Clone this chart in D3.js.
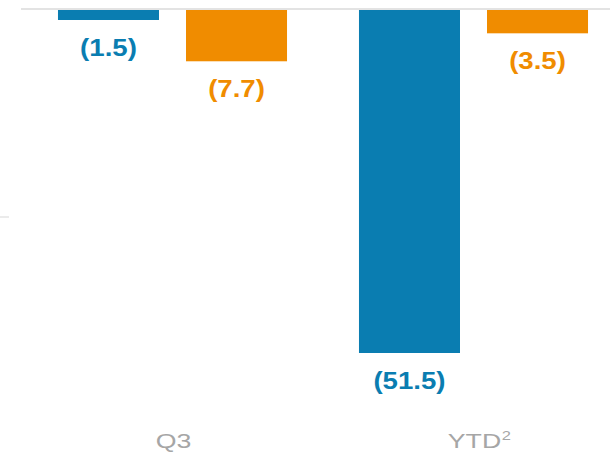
<!DOCTYPE html>
<html>
<head>
<meta charset="utf-8">
<script src="https://cdn.jsdelivr.net/npm/d3@7"></script>
<style>
  body { margin: 0; background: #fff; }
  svg { display: block; font-family: "Liberation Sans", Arial, sans-serif; }
</style>
</head>
<body>
<div class="barChart"></div>
<script>
// chart data
const categories = ["Q3", "YTD"];
const categorySup = ["", "2"];
const series = ["prior", "current"];
const seriesColors = ["#0a7db1", "#f08c00"];
const valuesQ3 = [-1.5, -7.7];
const valuesYTD = [-51.5, -3.5];
const values = [valuesQ3, valuesYTD];

const width = 610, height = 456;

const svg = d3.select(".barChart")
  .append("svg")
  .attr("width", width)
  .attr("height", height);

// flatten into rows for drawing
let rows = [];
categories.forEach((c, i) => {
  series.forEach((s, j) => {
    rows.push({cat: c, key: s, value: values[i][j], color: seriesColors[j]});
  });
});

// x scales, outer for category and inner for series
const x0 = d3.scaleBand().domain(categories).range([22, 624]).padding(0);
const x1 = d3.scaleBand().domain(series).range([0, x0.bandwidth()])
  .paddingInner(0.211).paddingOuter(0.281);

// y scale, negative values grow downward
const y = d3.scaleLinear().domain([0, -51.5]).range([10, 353]);

// faint tick at the far left
svg.append("line")
  .attr("x1", 0).attr("x2", 9)
  .attr("y1", 217).attr("y2", 217)
  .attr("stroke", "#e4e4e4").attr("stroke-width", 1.5);

// zero line
svg.append("line")
  .attr("x1", 21).attr("x2", width)
  .attr("y1", y(0) - 1).attr("y2", y(0) - 1)
  .attr("stroke", "#dadada").attr("stroke-width", 1.5);

// bars
svg.selectAll("rect.bar")
  .data(rows)
  .join("rect")
  .attr("class", "bar")
  .attr("x", d => x0(d.cat) + x1(d.key))
  .attr("y", d => Math.min(y(0), y(d.value)))
  .attr("width", x1.bandwidth())
  .attr("height", d => Math.abs(y(d.value) - y(0)))
  .attr("fill", d => d.color);

// value labels, negatives in parentheses
const fmt = v => v < 0 ? `(${d3.format(".1f")(-v)})` : d3.format(".1f")(v);
svg.selectAll("text.val")
  .data(rows)
  .join("text")
  .attr("class", "val")
  .attr("transform", d => `translate(${x0(d.cat) + x1(d.key) + x1.bandwidth() / 2}, ${y(d.value) + 36}) scale(1.15,1)`)
  .attr("text-anchor", "middle")
  .attr("font-size", "24px")
  .attr("font-weight", "bold")
  .attr("fill", d => d.color)
  .text(d => fmt(d.value));

// category labels (wide, light gray)
const catG = svg.selectAll("g.cat")
  .data(categories)
  .join("g")
  .attr("class", "cat")
  .attr("transform", d => `translate(${x0(d) + x0.bandwidth() / 2 + 1}, 448) scale(1.27,1)`);

catG.append("text")
  .attr("text-anchor", "middle")
  .attr("font-size", "21px")
  .attr("fill", "#a6a6a6")
  .text(d => d);

// superscripts placed after the main label
catG.each(function(d, i) {
  if (!categorySup[i]) return;
  const g = d3.select(this);
  const w = g.select("text").node().getComputedTextLength();
  g.append("text")
    .attr("x", w / 2 + 0.5)
    .attr("y", -8.5)
    .attr("font-size", "13px")
    .attr("fill", "#a6a6a6")
    .text(categorySup[i]);
});
</script>
</body>
</html>
